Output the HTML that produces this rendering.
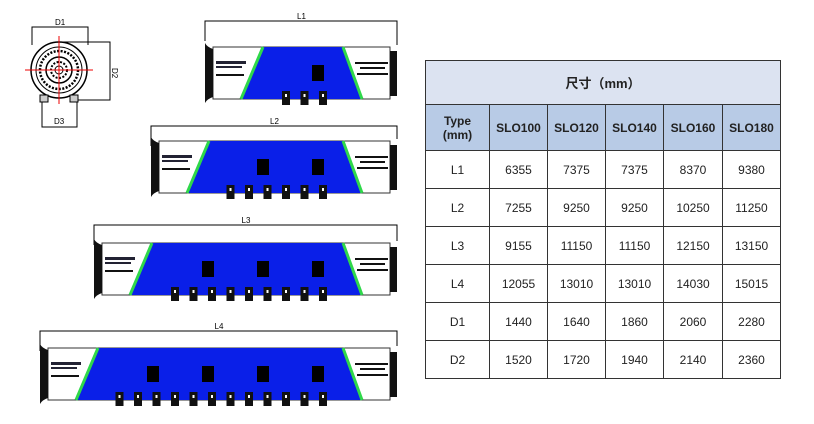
<!DOCTYPE html>
<html><head><meta charset="utf-8"><style>
body{margin:0;width:814px;height:424px;background:#fff;overflow:hidden;position:relative;font-family:"Liberation Sans","Noto Sans CJK SC",sans-serif}
svg{position:absolute;left:0;top:0}
table{position:absolute;left:425px;top:60px;border-collapse:collapse;font-size:12px;color:#222}
td{border:1px solid #333;text-align:center;padding:0}
.h1 td{background:#dce3f1;height:43px;font-weight:bold;font-size:13px}
.h2 td{background:#b8cbe6;height:45px;font-weight:bold}
.r td{height:37px}
</style></head><body>
<svg width="814" height="424" id="s" xmlns="http://www.w3.org/2000/svg">
<g stroke="#000" fill="none" stroke-width="1">
<circle cx="59" cy="70" r="28" stroke-width="1.5"/>
<circle cx="59" cy="70" r="23"/>
<circle cx="59" cy="70" r="19" stroke-dasharray="2 1.5" stroke-width="2.5"/>
<circle cx="59" cy="70" r="13" stroke-width="1.5"/>
<circle cx="59" cy="70" r="8" stroke-dasharray="2 1.5" stroke-width="2"/>
<circle cx="59" cy="70" r="4"/>
<rect x="40" y="95" width="8" height="7" fill="#ccc"/><rect x="70" y="95" width="8" height="7" fill="#ccc"/>
<path d="M32 45V27H88V45M62 42H110V100H78M110 42V100M42 102V127H77V102"/>
</g>
<g stroke="#e00" stroke-width="1"><path d="M25 70H93M59 36V104"/></g>
<g font-size="8" fill="#000" font-family="Liberation Sans">
<text x="55" y="25">D1</text><text x="54" y="124">D3</text>
<text x="112" y="68" transform="rotate(90 112 68)">D2</text>
</g>
</svg>
<table>
<tr class="h1"><td colspan="6">尺寸（mm）</td></tr>
<tr class="h2"><td style="width:63px">Type<br>(mm)</td><td style="width:57px">SLO100</td><td style="width:57px">SLO120</td><td style="width:57px">SLO140</td><td style="width:58px">SLO160</td><td style="width:57px">SLO180</td></tr>
<tr class="r"><td>L1</td><td>6355</td><td>7375</td><td>7375</td><td>8370</td><td>9380</td></tr>
<tr class="r"><td>L2</td><td>7255</td><td>9250</td><td>9250</td><td>10250</td><td>11250</td></tr>
<tr class="r"><td>L3</td><td>9155</td><td>11150</td><td>11150</td><td>12150</td><td>13150</td></tr>
<tr class="r"><td>L4</td><td>12055</td><td>13010</td><td>13010</td><td>14030</td><td>15015</td></tr>
<tr class="r"><td>D1</td><td>1440</td><td>1640</td><td>1860</td><td>2060</td><td>2280</td></tr>
<tr class="r"><td>D2</td><td>1520</td><td>1720</td><td>1940</td><td>2140</td><td>2360</td></tr>
</table>
<script>
var s=document.getElementById('s'),h='';
function m(x0,top,dimY,lab,nr,nf){
 var bot=top+52,L=x0+8,R=390;
 h+='<path d="M'+(x0)+' '+(dimY+20)+'V'+dimY+'H397V'+(top-2)+'" stroke="#000" fill="none"/>';
 h+='<text x="'+((x0+397)/2-4)+'" y="'+(dimY-2)+'" font-size="8" font-family="Liberation Sans">'+lab+'</text>';
 h+='<rect x="'+L+'" y="'+top+'" width="'+(R-L)+'" height="52" fill="#fff" stroke="#333"/>';
 h+='<path d="M'+x0+' '+(top-4)+'Q'+(x0+2)+' '+top+' '+(L)+' '+(top+2)+'V'+(bot-2)+'Q'+(x0+2)+' '+bot+' '+x0+' '+(bot+4)+'Z" fill="#111"/>';
 h+='<rect x="'+R+'" y="'+(top+4)+'" width="7" height="45" fill="#111"/>';
 var tl=L+50,tr=343,bl=L+28,br=362;
 h+='<polygon points="'+tl+','+top+' '+tr+','+top+' '+br+','+bot+' '+bl+','+bot+'" fill="#0a1fe8"/>';
 h+='<path d="M'+tl+' '+top+'L'+bl+' '+bot+'M'+tr+' '+top+'L'+br+' '+bot+'" stroke="#2fd84a" stroke-width="3"/>';
 h+='<rect x="'+(L+3)+'" y="'+(top+14)+'" width="30" height="3" fill="#223"/><rect x="'+(L+3)+'" y="'+(top+19)+'" width="26" height="2" fill="#223"/><rect x="'+(L+3)+'" y="'+(top+27)+'" width="28" height="2" fill="#111"/>';
 h+='<rect x="355" y="'+(top+15)+'" width="33" height="2" fill="#111"/><rect x="360" y="'+(top+20)+'" width="25" height="2" fill="#111"/><rect x="357" y="'+(top+26)+'" width="31" height="2" fill="#111"/>';
 for(var i=0;i<nr;i++){var cx=318-i*55;h+='<rect x="'+(cx-6)+'" y="'+(top+18)+'" width="12" height="16" fill="#000"/>';}
 for(var j=0;j<nf;j++){var fx=323-j*18.5;h+='<rect x="'+(fx-4)+'" y="'+(bot-8)+'" width="8" height="14" fill="#111"/><rect x="'+(fx-1)+'" y="'+(bot-5)+'" width="2" height="3" fill="#fff"/>';}
}
m(205,47,21,'L1',1,3);
m(151,141,126,'L2',2,6);
m(94,243,225,'L3',3,9);
m(40,348,331,'L4',4,12);
s.insertAdjacentHTML('beforeend',h);
</script>
</body></html>
